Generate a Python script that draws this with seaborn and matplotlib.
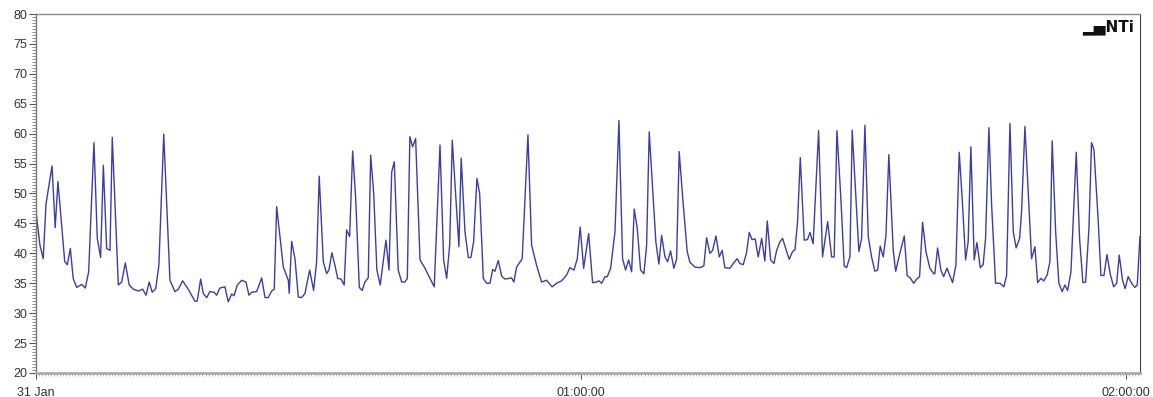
import numpy as np
import pandas as pd
import matplotlib
matplotlib.use("Agg")
import matplotlib.pyplot as plt
import seaborn as sns
from matplotlib.ticker import FixedLocator, MultipleLocator

# elapsed seconds since 31 Jan 00:00:00
seconds = [
    0, 26, 48, 66, 106, 127, 145, 190, 207, 227,
    246, 269, 302, 326, 348, 383, 405, 427, 445, 467,
    489, 504, 544, 566, 590, 616, 643, 676, 705, 727,
    748, 768, 791, 812, 844, 885, 918, 940, 969, 1006,
    1050, 1065, 1088, 1105, 1128, 1149, 1176, 1194, 1215, 1248,
    1270, 1293, 1308, 1330, 1359, 1387, 1407, 1425, 1458, 1491,
    1513, 1534, 1557, 1574, 1590, 1634, 1667, 1673, 1689, 1711,
    1733, 1755, 1777,
    1808, 1834, 1854, 1871, 1898, 1920, 1935, 1955, 1975, 1993,
    2015, 2036, 2052, 2072, 2092, 2112, 2136, 2155, 2173, 2195,
    2211, 2231, 2252, 2274, 2312, 2332, 2350, 2367, 2393, 2416,
    2437, 2453, 2470, 2488, 2508, 2537, 2570, 2603, 2631, 2669,
    2693, 2713, 2733, 2750, 2794, 2809, 2834, 2856, 2873, 2891,
    2913, 2931, 2955, 2977, 2999, 3017, 3032, 3054, 3076, 3098,
    3124, 3142, 3157, 3175, 3212, 3250, 3274, 3307, 3340, 3373,
    3410, 3439, 3472, 3506, 3527, 3554, 3576, 3595, 3618,
    3651, 3677, 3704, 3719, 3737, 3759, 3774, 3796, 3825, 3851,
    3875, 3895, 3915, 3935, 3952, 3972, 3994, 4016, 4034, 4051,
    4095, 4115, 4133, 4155, 4173, 4192, 4214, 4232, 4249, 4276,
    4302, 4320, 4353, 4386, 4412, 4430, 4452, 4470, 4492, 4514,
    4533, 4551, 4584, 4606, 4632, 4650, 4672, 4694, 4712, 4730,
    4751, 4771, 4794, 4815, 4831, 4853, 4875, 4893, 4914, 4932,
    4959, 4976, 4998, 5014, 5031, 5049, 5075, 5097, 5113, 5134,
    5170, 5196, 5230, 5256, 5273, 5291, 5317, 5339, 5355, 5377,
    5392, 5436,
    5454, 5476, 5498, 5520, 5542, 5560, 5577, 5597, 5615, 5634,
    5663, 5679, 5701, 5736, 5755, 5775, 5798, 5815, 5837, 5857,
    5879, 5905, 5930, 5938, 5956, 5978, 5996, 6018, 6055, 6077,
    6099, 6121, 6141, 6158, 6176, 6198, 6216, 6238, 6257, 6273,
    6295, 6313, 6339, 6368, 6394, 6412, 6434, 6456, 6475, 6498,
    6511, 6533, 6559, 6577, 6599, 6617, 6638, 6658, 6680, 6698,
    6713, 6736, 6757, 6779, 6797, 6815, 6837, 6872, 6894, 6916,
    6934, 6956, 6973, 6989, 7017, 7035, 7055, 7075, 7096, 7119,
    7139, 7156, 7178, 7195, 7215, 7238, 7259, 7275, 7293,
]

# sound level, dB
level = [
    47.05, 41.4, 39.1, 48.2, 54.6, 44.3, 52.0, 38.6, 38.1, 40.8,
    35.8, 34.3, 34.8, 34.2, 36.9, 58.5, 42.5, 39.3, 54.7, 40.8,
    40.5, 59.4, 34.7, 35.2, 38.4, 34.7, 34.0, 33.7, 34.0, 33.0,
    35.2, 33.5, 34.1, 38.0, 59.9, 35.5, 33.6, 34.0, 35.4, 34.0,
    32.0, 32.0, 35.7, 33.3, 32.6, 33.6, 33.5, 33.0, 34.2, 34.4,
    31.9, 33.2, 32.9, 34.7, 35.5, 35.2, 33.0, 33.5, 33.6, 35.9,
    32.6, 32.6, 33.7, 34.0, 47.8, 37.7, 35.5, 33.3, 42.0, 39.1,
    32.7, 32.6, 33.3,
    37.2, 33.8, 38.6, 52.9, 38.6, 36.6, 37.2, 40.1, 38.0, 35.8,
    35.7, 34.7, 43.9, 42.8, 57.1, 49.2, 34.3, 33.8, 35.2, 35.9,
    56.4, 50.0, 37.2, 34.7, 42.2, 37.2, 53.6, 55.3, 37.2, 35.2,
    35.2, 35.8, 59.5, 57.8, 59.2, 38.9, 37.5, 35.8, 34.4, 58.1,
    38.9, 35.8, 41.4, 58.9, 41.1, 55.9, 43.6, 39.3, 39.3, 41.9,
    52.5, 50.0, 35.8, 35.0, 35.0, 37.3, 37.0, 38.8, 36.2, 35.7,
    35.8, 35.9, 35.2, 37.7, 39.1, 59.8, 41.4, 38.0, 35.2, 35.5,
    34.4, 35.0, 35.4, 36.4, 37.6, 37.2, 39.1, 44.4, 37.5,
    43.3, 35.1, 35.2, 35.4, 35.0, 36.1, 36.1, 37.5, 43.6, 62.2,
    39.1, 37.2, 38.9, 36.9, 47.4, 44.2, 37.2, 36.6, 41.4, 60.3,
    41.9, 38.2, 43.0, 39.4, 38.6, 40.4, 37.5, 39.0, 57.0, 48.1,
    40.3, 38.5, 37.7, 37.6, 37.9, 42.6, 40.0, 40.5, 42.9, 39.4,
    40.5, 37.6, 37.5, 38.3, 39.1, 38.3, 38.1, 40.1, 43.5, 42.3,
    42.4, 39.4, 42.5, 38.7, 45.4, 38.9, 38.3, 40.5, 41.9, 42.5,
    40.3, 39.0, 40.3, 40.6, 45.3, 56.0, 42.2, 42.3, 43.5, 41.6,
    60.5, 39.4, 45.3, 39.4, 39.4, 60.5, 49.2, 37.9, 37.6, 39.4,
    60.6, 40.3,
    42.5, 61.4, 42.8, 39.4, 37.0, 37.2, 41.2, 39.4, 43.0, 56.5,
    40.5, 37.0, 39.4, 42.9, 36.3, 35.9, 35.0, 35.6, 36.1, 45.2,
    40.3, 37.5, 36.6, 36.6, 40.9, 37.2, 36.1, 37.5, 35.1, 38.0,
    56.9, 48.1, 38.9, 41.9, 57.8, 38.9, 41.8, 37.6, 38.1, 42.5,
    61.0, 48.1, 35.0, 35.0, 34.4, 36.3, 61.7, 43.6, 40.9, 42.5,
    47.0, 61.2, 48.1, 39.1, 41.1, 35.1, 35.8, 35.4, 36.4, 38.6,
    58.8, 43.6, 35.0, 33.6, 34.7, 33.8, 36.9, 56.9, 42.5, 35.1,
    35.2, 44.2, 58.5, 57.3, 45.5, 36.3, 36.3, 39.8, 36.6, 34.4,
    35.0, 39.7, 35.5, 34.1, 36.1, 35.0, 34.3, 34.7, 42.8,
]

x_ticks = [0, 3600, 7200]
x_labels = ["31 Jan", "01:00:00", "02:00:00"]

df = pd.DataFrame({"t": seconds, "level": level})

sns.set_style("ticks")
plt.rcParams["font.family"] = ["Liberation Sans", "DejaVu Sans"]

fig = plt.figure(figsize=(11.53, 3.97), dpi=100)
ax = fig.add_axes([0.0312, 0.0605, 0.9575, 0.9042])

sns.lineplot(data=df, x="t", y="level", color="#3d3da6", linewidth=1.0, ax=ax)

ax.set_xlim(0, 7293)
ax.set_ylim(20, 80)
ax.set_xlabel("")
ax.set_ylabel("")

ax.xaxis.set_major_locator(FixedLocator(x_ticks))
ax.set_xticklabels(x_labels)
ax.xaxis.set_minor_locator(MultipleLocator(20))
ax.yaxis.set_major_locator(MultipleLocator(5))
ax.yaxis.set_minor_locator(MultipleLocator(0.5))

ax.tick_params(axis="y", which="major", length=5, width=0.8, color="#555555",
               labelsize=9, labelcolor="#333333", pad=1)
ax.tick_params(axis="y", which="minor", length=3, width=0.6, color="#777777")
ax.tick_params(axis="x", which="major", length=4, width=0.8, color="#555555",
               labelsize=9, labelcolor="#333333", pad=6)
ax.tick_params(axis="x", which="minor", length=2, width=0.6, color="#aaaaaa")

for side in ["top", "right"]:
    ax.spines[side].set_visible(True)
ax.spines["top"].set_color("#888888")
ax.spines["top"].set_linewidth(1.0)
ax.spines["right"].set_color("#444444")
ax.spines["right"].set_linewidth(0.8)
ax.spines["left"].set_color("#777777")
ax.spines["left"].set_linewidth(1.0)
ax.spines["bottom"].set_color("#aaaaaa")
ax.spines["bottom"].set_linewidth(2.0)

# logo in the top right corner
ax.text(0.995, 0.985, "\u2582\u2585NTi", transform=ax.transAxes, ha="right", va="top",
        fontsize=11, fontweight="bold", color="#111111",
        family=["DejaVu Sans"])

fig.savefig("out.png", dpi=100, facecolor="white")
